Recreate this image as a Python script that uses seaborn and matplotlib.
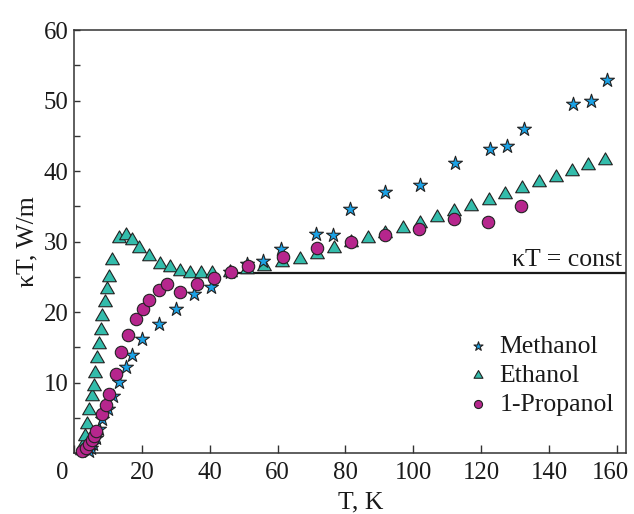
import numpy as np
import pandas as pd
import matplotlib
matplotlib.use("Agg")
import matplotlib.pyplot as plt
from matplotlib.path import Path
from matplotlib.transforms import ScaledTranslation
from matplotlib.ticker import MultipleLocator
import seaborn as sns

# Thermal conductivity times temperature, kappa*T (W/m), against T (K)
methanol_T = [4.4, 5.0, 5.7, 6.5, 7.5, 8.4, 10.0, 11.5, 13.2, 15.3, 17.0, 19.9,
              25.2, 30.2, 35.4, 40.5, 46.0, 51.0, 55.8, 61.1, 71.3, 76.4,
              81.4, 91.8, 102.0, 112.2, 122.5, 127.5, 132.5, 147.1, 152.3, 157.0]
methanol_kT = [0.3, 0.7, 1.3, 2.2, 3.4, 4.8, 6.3, 8.1, 10.1, 12.2, 14.0, 16.2,
               18.3, 20.5, 22.6, 23.6, 25.7, 26.9, 27.3, 29.0, 31.1, 30.9,
               34.6, 37.0, 38.0, 41.1, 43.2, 43.6, 46.0, 49.5, 50.0, 52.9]

ethanol_T = [2.3, 2.8, 3.2, 3.9, 4.5, 5.2, 5.8, 6.3, 6.9, 7.4, 8.0, 8.4, 9.2,
             9.7, 10.3, 11.2, 13.2, 15.3, 17.2, 19.2, 22.1, 25.3, 28.2, 31.3,
             34.3, 37.5, 40.6, 45.9, 51.0, 56.1, 61.3, 66.5, 71.5, 76.7, 81.7,
             86.8, 91.8, 96.9, 102.0, 107.0, 111.9, 117.1, 122.2, 127.1, 132.1,
             137.1, 142.1, 146.9, 151.6, 156.6]
ethanol_kT = [0.5, 1.2, 2.4, 4.2, 6.1, 8.1, 9.6, 11.4, 13.5, 15.5, 17.5, 19.5,
              21.4, 23.3, 25.0, 27.4, 30.5, 30.9, 30.2, 29.1, 27.9, 26.9, 26.4,
              25.8, 25.6, 25.6, 25.6, 25.7, 26.1, 26.6, 27.1, 27.6, 28.3, 29.1,
              29.9, 30.5, 31.2, 32.0, 32.7, 33.5, 34.3, 35.1, 35.9, 36.8, 37.6,
              38.4, 39.2, 40.0, 40.8, 41.6]

propanol_T = [2.4, 3.5, 4.5, 5.3, 5.9, 6.5, 8.2, 9.3, 10.2, 12.3, 14.0, 16.0,
              18.2, 20.2, 22.1, 25.0, 27.3, 31.3, 36.4, 41.4, 46.3, 51.4, 61.6,
              71.6, 81.6, 91.7, 101.8, 111.9, 121.9, 131.7]
propanol_kT = [0.3, 0.8, 1.3, 1.9, 2.4, 3.2, 5.6, 6.9, 8.4, 11.3, 14.3, 16.8,
               19.0, 20.4, 21.8, 23.2, 24.0, 22.9, 24.0, 24.9, 25.7, 26.5, 27.8,
               29.1, 29.9, 30.9, 31.8, 33.2, 32.8, 35.0]

# kappa*T = const level and the temperature where that line starts
const_level = 25.5
const_T_start = 47.0

x_ticks = [0, 20, 40, 60, 80, 100, 120, 140, 160]
y_ticks = [10, 20, 30, 40, 50, 60]

series_names = ["Methanol", "Ethanol", "1-Propanol"]
colors = {"Methanol": "#1ba2e6", "Ethanol": "#33bcab", "1-Propanol": "#b6268d"}

sns.set_theme(style="ticks")
plt.rcParams["font.family"] = ["Liberation Serif", "DejaVu Serif"]
plt.rcParams["font.size"] = 18.5

text_color = "#1a1a1a"

fig = plt.figure(figsize=(6.34, 5.14), dpi=100)
ax = fig.add_axes([0.1167, 0.1181, 0.8707, 0.8235])

# equilateral triangle marker
tri = Path([(-1.0, -0.62), (1.0, -0.62), (0.0, 1.11), (-1.0, -0.62)],
           [Path.MOVETO, Path.LINETO, Path.LINETO, Path.CLOSEPOLY])

edge = "#222222"
ax.plot([const_T_start, 162.7], [const_level, const_level], color="#1a1a1a",
        lw=1.6, zorder=1, solid_capstyle="butt")

sns.scatterplot(x=ethanol_T, y=ethanol_kT, ax=ax, marker=tri, s=120,
                color=colors["Ethanol"], edgecolor=edge, linewidth=0.8,
                label="Ethanol", zorder=2, clip_on=False)
sns.scatterplot(x=methanol_T, y=methanol_kT, ax=ax, marker="*", s=110,
                color=colors["Methanol"], edgecolor=edge, linewidth=0.8,
                label="Methanol", zorder=3, clip_on=False)
sns.scatterplot(x=propanol_T, y=propanol_kT, ax=ax, marker="o", s=80,
                color=colors["1-Propanol"], edgecolor=edge, linewidth=0.8,
                label="1-Propanol", zorder=4, clip_on=False)

ax.text(161.6, 26.5, "κT = const", ha="right", va="baseline", fontsize=18.5,
        color=text_color)

ax.set_xlim(0, 162.7)
ax.set_ylim(0, 60)
ax.set_xticks(x_ticks)
ax.set_xticklabels([str(t) for t in x_ticks])
ax.set_yticks(y_ticks)
ax.set_yticklabels([str(t) for t in y_ticks])
ax.yaxis.set_minor_locator(MultipleLocator(5))

for side in ["top", "right", "left", "bottom"]:
    ax.spines[side].set_visible(True)
    ax.spines[side].set_color("#333333")
    ax.spines[side].set_linewidth(1.1)

ax.tick_params(axis="x", which="major", direction="in", length=6, width=1.0,
               color="#333333", pad=6, labelsize=17.8, labelcolor=text_color)
ax.tick_params(axis="y", which="both", direction="in", length=4, width=1.0,
               color="#333333", pad=4, labelsize=17.8, labelcolor=text_color)

# nudge the end labels inward: "0" clear of the first data points, "160" inside the frame
xlabels = ax.get_xticklabels()
xlabels[0].set_transform(xlabels[0].get_transform() +
                         ScaledTranslation(-0.12, 0, fig.dpi_scale_trans))
xlabels[-1].set_transform(xlabels[-1].get_transform() +
                          ScaledTranslation(-0.06, 0, fig.dpi_scale_trans))

ax.set_xlabel("T, K", fontsize=18.5, color=text_color, va="center")
ax.xaxis.set_label_coords(0.52, -0.117)
ax.set_ylabel("κT, W/m", fontsize=18.5, color=text_color, va="center")
ax.yaxis.set_label_coords(-0.085, 0.5)

handles, labels = ax.get_legend_handles_labels()
order = [labels.index(n) for n in series_names]
leg = ax.legend([handles[i] for i in order], [labels[i] for i in order],
                loc="upper left", bbox_to_anchor=(0.713, 0.280),
                frameon=False, handlelength=0.8, handletextpad=0.45,
                labelspacing=0.23, borderpad=0.0, borderaxespad=0.0,
                markerscale=0.65, fontsize=18.5)
for t in leg.get_texts():
    t.set_color(text_color)

fig.savefig("out.png", dpi=100)
